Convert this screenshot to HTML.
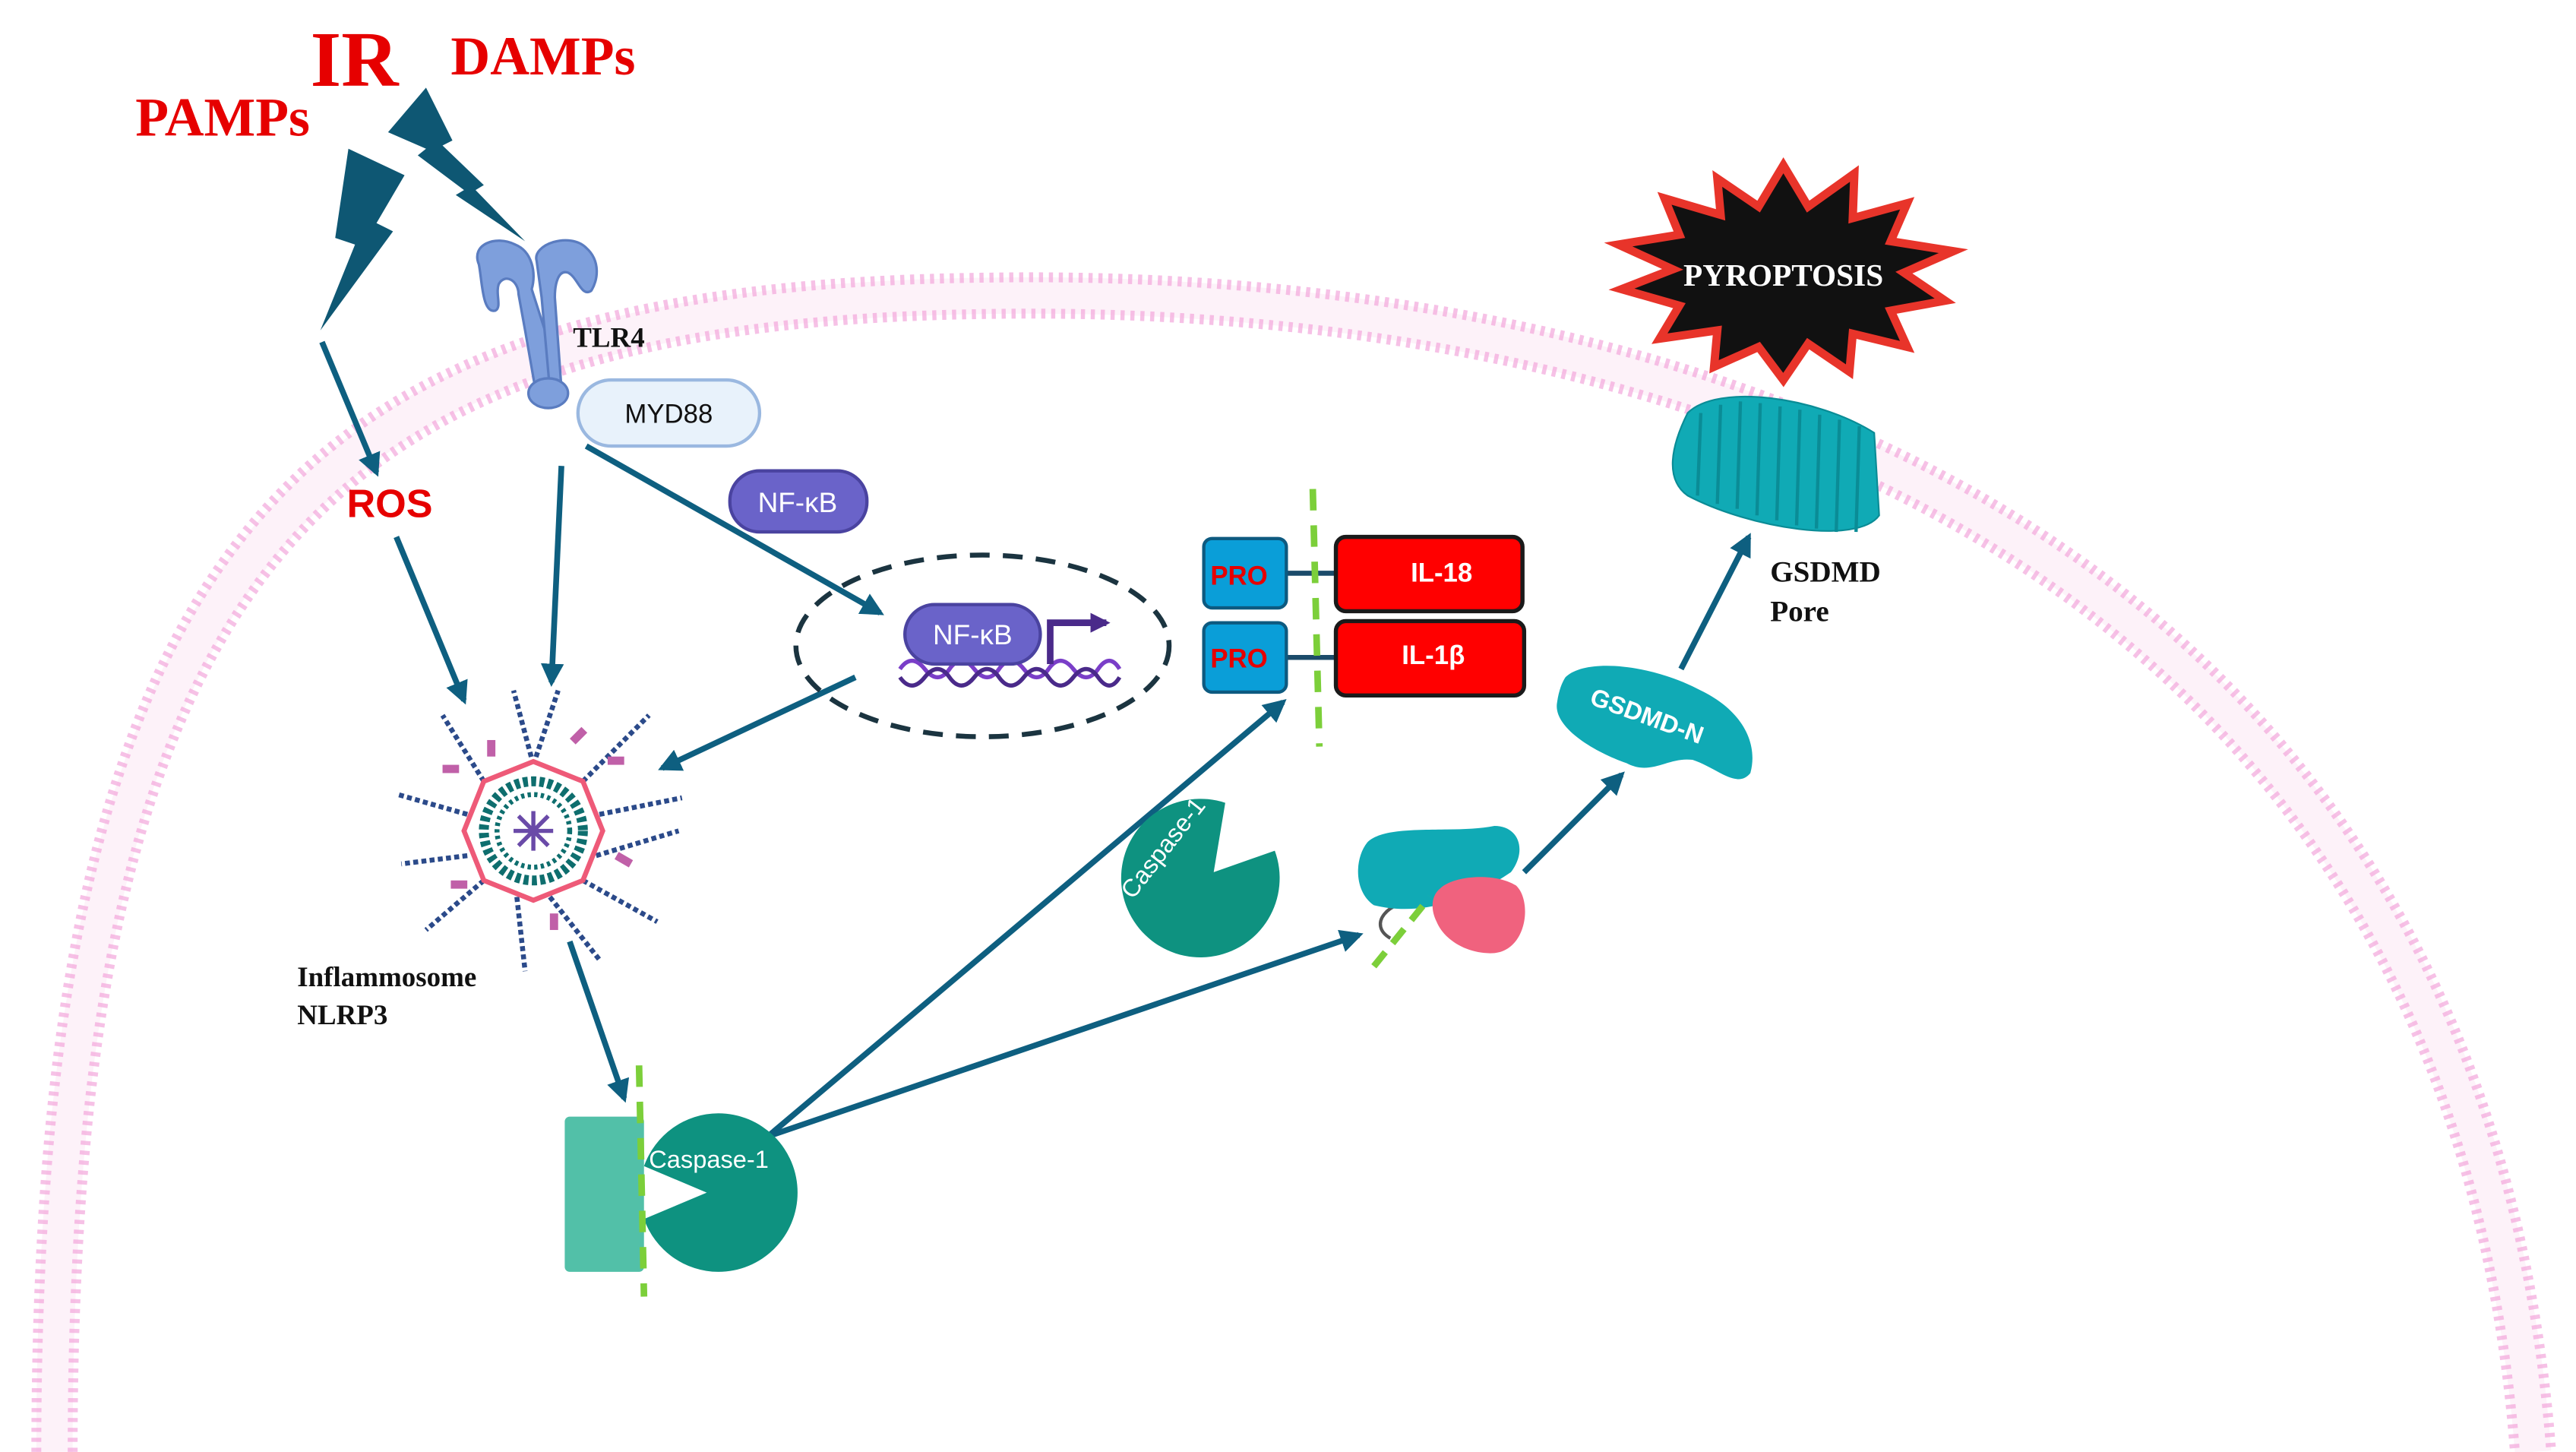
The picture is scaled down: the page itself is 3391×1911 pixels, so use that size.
<!DOCTYPE html>
<html><head><meta charset="utf-8"><style>html,body{margin:0;padding:0;background:#fff}svg{display:block}</style></head>
<body>
<svg width="3391" height="1911" viewBox="0 0 1560 879" xmlns="http://www.w3.org/2000/svg">
<defs>
<marker id="ah" viewBox="0 0 10 10" refX="8" refY="5" markerWidth="4" markerHeight="4" orient="auto"><path d="M0,0 L10,5 L0,10 z" fill="#0e5f80"/></marker>
<marker id="ap" viewBox="0 0 10 10" refX="8" refY="5" markerWidth="3" markerHeight="3" orient="auto"><path d="M0,0 L10,5 L0,10 z" fill="#4a2a8a"/></marker>
</defs>
<rect width="1560" height="879" fill="#fff"/>
<!-- membrane -->
<path d="M33 879 C33 310 207 184 600 179 C995 173 1490 310 1534 879" fill="none" stroke="#fdf2f9" stroke-width="22"/>
<path d="M22 879 C22 300 200 172 600 168 C1000 162 1500 300 1545 879" fill="none" stroke="#f2a6dc" stroke-width="6" stroke-dasharray="2.5 3.5" opacity="0.7"/>
<path d="M44 879 C44 320 215 195 600 190 C990 184 1480 320 1523 879" fill="none" stroke="#f2a6dc" stroke-width="6" stroke-dasharray="2.5 3.5" opacity="0.7"/>

<!-- title labels -->
<g font-family="'Liberation Serif',serif" font-weight="bold" fill="#e60000">
<text x="188" y="52" font-size="48">IR</text>
<text x="273" y="45" font-size="33">DAMPs</text>
<text x="82" y="82" font-size="33">PAMPs</text>
</g>
<!-- lightning -->
<path d="M211 90 L245 106 L228 135 L238 140 L194 200 L215 148 L203 144 Z" fill="#0e5773"/>
<path d="M258 53 L274 85 L268 88 L293 112 L288 115 L318 146 L276 118 L281 115 L253 94 L258 90 L235 80 Z" fill="#0e5773"/>

<!-- TLR4 -->
<g fill="#7e9fdc" stroke="#5a7cc0" stroke-width="1.5">
<path d="M290 160 C285 148 300 142 312 148 C322 152 325 165 322 175 L330 200 L335 240 L325 240 L318 200 L314 178 C314 170 306 165 302 172 C300 178 304 186 300 188 C292 190 292 170 290 160Z"/>
<path d="M325 158 C322 148 345 140 355 150 C364 158 362 170 358 176 C352 180 350 168 344 165 C338 163 336 172 336 180 L340 235 L333 236 L328 180 Z"/>
<ellipse cx="332" cy="238" rx="12" ry="9"/>
</g>
<text x="347" y="210" font-family="'Liberation Serif',serif" font-weight="bold" font-size="17" fill="#111">TLR4</text>
<rect x="350" y="230" width="110" height="40" rx="20" fill="#e8f2fb" stroke="#9ab8e0" stroke-width="2"/>
<text x="405" y="256" text-anchor="middle" font-family="'Liberation Sans',sans-serif" font-size="16" fill="#111">MYD88</text>

<!-- arrows -->
<g stroke="#0e5f80" stroke-width="3.5" fill="none" marker-end="url(#ah)">
<line x1="195" y1="207" x2="228" y2="286"/>
<line x1="240" y1="325" x2="281" y2="424"/>
<line x1="340" y1="282" x2="334" y2="413"/>
<line x1="355" y1="270" x2="533" y2="371"/>
<line x1="518" y1="410" x2="401" y2="465"/>
<line x1="345" y1="570" x2="378" y2="665"/>
<line x1="465" y1="688" x2="777" y2="425"/>
<line x1="465" y1="688" x2="823" y2="566"/>
<line x1="923" y1="528" x2="982" y2="469"/>
<line x1="1018" y1="405" x2="1059" y2="325"/>
</g>
<text x="210" y="313" font-family="'Liberation Sans',sans-serif" font-weight="bold" font-size="24" fill="#e60000">ROS</text>

<!-- NF-kB -->
<rect x="442" y="285" width="83" height="37" rx="18" fill="#6a63c9" stroke="#4a43a0" stroke-width="2"/>
<text x="483" y="310" text-anchor="middle" font-family="'Liberation Sans',sans-serif" font-size="17" fill="#fff">NF-κB</text>
<ellipse cx="595" cy="391" rx="113" ry="55" fill="none" stroke="#1b3440" stroke-width="3" stroke-dasharray="12 8"/>
<path d="M545 405 Q552 395 560 405 T575 405 T590 405 T605 405 T620 405 T635 405 T650 405 T665 405 T678 405" fill="none" stroke="#7a3ec8" stroke-width="2.5"/>
<path d="M545 410 Q552 420 560 410 T575 410 T590 410 T605 410 T620 410 T635 410 T650 410 T665 410 T678 410" fill="none" stroke="#4a2a8a" stroke-width="2.5"/>
<rect x="548" y="366" width="82" height="36" rx="18" fill="#6a63c9" stroke="#4a43a0" stroke-width="2"/>
<text x="589" y="390" text-anchor="middle" font-family="'Liberation Sans',sans-serif" font-size="17" fill="#fff">NF-κB</text>
<path d="M636 402 L636 377 L670 377" fill="none" stroke="#4a2a8a" stroke-width="4" marker-end="url(#ap)"/>

<!-- inflammasome -->
<g transform="translate(323,503)">
<g stroke="#2b4a8a" stroke-width="3" stroke-dasharray="3 2">
<line x1="0" y1="-40" x2="-12" y2="-85"/><line x1="0" y1="-40" x2="15" y2="-85"/>
<line x1="30" y1="-30" x2="70" y2="-70"/><line x1="40" y1="-10" x2="90" y2="-20"/>
<line x1="38" y1="15" x2="88" y2="0"/><line x1="30" y1="30" x2="75" y2="55"/>
<line x1="10" y1="40" x2="40" y2="78"/><line x1="-10" y1="40" x2="-5" y2="85"/>
<line x1="-30" y1="30" x2="-65" y2="60"/><line x1="-40" y1="15" x2="-80" y2="20"/>
<line x1="-40" y1="-10" x2="-82" y2="-22"/><line x1="-30" y1="-30" x2="-55" y2="-70"/>
</g>
<g fill="#c060a8">
<rect x="22" y="-60" width="10" height="5" transform="rotate(-45 27 -58)"/><rect x="45" y="-45" width="10" height="5"/>
<rect x="50" y="15" width="10" height="5" transform="rotate(30 55 17)"/><rect x="-55" y="-40" width="10" height="5"/>
<rect x="-50" y="30" width="10" height="5"/><rect x="10" y="50" width="5" height="10"/><rect x="-28" y="-55" width="5" height="10"/>
</g>
<polygon points="0,-42 30,-30 42,0 30,30 0,42 -30,30 -42,0 -30,-30" fill="#fff" stroke="#ee5a78" stroke-width="3"/>
<circle r="30" fill="none" stroke="#0e6e6e" stroke-width="6" stroke-dasharray="3 2"/>
<circle r="22" fill="none" stroke="#0e6e6e" stroke-width="3" stroke-dasharray="2 2"/>
<g stroke="#6a4aa8" stroke-width="2.5"><line x1="-12" y1="0" x2="12" y2="0"/><line x1="0" y1="-12" x2="0" y2="12"/><line x1="-9" y1="-9" x2="9" y2="9"/><line x1="-9" y1="9" x2="9" y2="-9"/></g>
</g>
<text font-family="'Liberation Serif',serif" font-weight="bold" font-size="17" fill="#111"><tspan x="180" y="597">Inflammosome</tspan><tspan x="180" y="620">NLRP3</tspan></text>

<!-- caspase-1 bottom -->
<rect x="342" y="676" width="48" height="94" rx="3" fill="#52c0a8"/>
<path d="M435 674 A48 48 0 1 1 435 770 A48 48 0 0 1 390 738 L428 722 L390 706 A48 48 0 0 1 435 674Z" fill="#0e9280"/>
<text x="393" y="707" font-family="'Liberation Sans',sans-serif" font-size="15" fill="#fff">Caspase-1</text>
<line x1="387" y1="645" x2="390" y2="785" stroke="#7ccf3a" stroke-width="4" stroke-dasharray="13 9"/>

<!-- PRO IL -->
<line x1="779" y1="347" x2="810" y2="347" stroke="#1b4b6a" stroke-width="3"/>
<line x1="779" y1="398" x2="810" y2="398" stroke="#1b4b6a" stroke-width="3"/>
<rect x="729" y="326" width="50" height="42" rx="5" fill="#0a9ed8" stroke="#0d5a80" stroke-width="2"/>
<rect x="729" y="377" width="50" height="42" rx="5" fill="#0a9ed8" stroke="#0d5a80" stroke-width="2"/>
<g font-family="'Liberation Sans',sans-serif" font-weight="bold" font-size="16" fill="#e60000"><text x="733" y="354">PRO</text><text x="733" y="404">PRO</text></g>
<rect x="809" y="325" width="113" height="45" rx="6" fill="#ff0000" stroke="#1a1a1a" stroke-width="2.5"/>
<rect x="809" y="376" width="114" height="45" rx="6" fill="#ff0000" stroke="#1a1a1a" stroke-width="2.5"/>
<g font-family="'Liberation Sans',sans-serif" font-weight="bold" font-size="16" fill="#fff" text-anchor="middle"><text x="873" y="352">IL-18</text><text x="868" y="402">IL-1β</text></g>
<line x1="795" y1="296" x2="799" y2="452" stroke="#7ccf3a" stroke-width="4" stroke-dasharray="13 9"/>

<!-- caspase-1 pacman -->
<path d="M772 515 A48 48 0 1 1 742 486 L735 528 Z" fill="#0e9280"/>
<text x="0" y="0" font-family="'Liberation Sans',sans-serif" font-size="15" fill="#fff" transform="translate(686,545) rotate(-52)">Caspase-1</text>

<!-- GSDMD full -->
<path d="M842 568 C828 560 840 545 860 545" fill="none" stroke="#555" stroke-width="2"/>
<path d="M828 510 C840 498 880 505 905 500 C920 500 925 515 915 528 C890 545 860 555 832 548 C820 540 820 520 828 510Z" fill="#10aab5"/>
<path d="M872 538 C880 530 905 528 918 536 C928 545 925 575 905 577 C890 578 875 570 870 558 C866 550 867 542 872 538Z" fill="#f0627e"/>
<line x1="832" y1="585" x2="866" y2="543" stroke="#7ccf3a" stroke-width="4" stroke-dasharray="11 7"/>

<!-- GSDMD-N -->
<path d="M948 410 C960 398 1000 402 1030 418 C1055 430 1065 450 1060 468 C1052 478 1040 465 1025 460 C1010 458 1000 470 985 462 C965 455 940 440 943 425 C944 418 946 413 948 410Z" fill="#10aab5"/>
<text x="0" y="0" font-family="'Liberation Sans',sans-serif" font-weight="bold" font-size="15" fill="#fff" transform="translate(962,426) rotate(20)">GSDMD-N</text>

<!-- pore -->
<path d="M1022 250 C1040 232 1100 240 1135 262 L1138 312 C1125 330 1060 320 1022 300 C1008 290 1012 270 1022 250Z" fill="#10aab5" stroke="#0a8c96" stroke-width="1"/>
<g stroke="#0a8c96" stroke-width="2">
<line x1="1030" y1="250" x2="1028" y2="300"/><line x1="1042" y1="245" x2="1040" y2="305"/><line x1="1054" y1="243" x2="1052" y2="308"/><line x1="1066" y1="244" x2="1064" y2="312"/><line x1="1078" y1="246" x2="1076" y2="315"/><line x1="1090" y1="248" x2="1088" y2="318"/><line x1="1102" y1="251" x2="1100" y2="320"/><line x1="1114" y1="254" x2="1112" y2="322"/><line x1="1126" y1="258" x2="1124" y2="322"/>
</g>
<text font-family="'Liberation Serif',serif" font-weight="bold" font-size="18" fill="#111"><tspan x="1072" y="352">GSDMD</tspan><tspan x="1072" y="376">Pore</tspan></text>

<!-- pyroptosis -->
<polygon points="1080,100 1095,125 1123,105 1122,132 1155,123 1145,146 1183,152 1153,165 1178,182 1145,188 1155,210 1122,202 1120,225 1095,208 1080,230 1065,210 1038,222 1040,200 1005,205 1017,185 982,175 1013,163 980,148 1017,142 1008,120 1042,130 1040,108 1065,125" fill="#111" stroke="#e8342a" stroke-width="5" stroke-linejoin="miter"/>
<text x="1080" y="173" text-anchor="middle" font-family="'Liberation Serif',serif" font-weight="bold" font-size="19" fill="#fff">PYROPTOSIS</text>
</svg>
</body></html>
